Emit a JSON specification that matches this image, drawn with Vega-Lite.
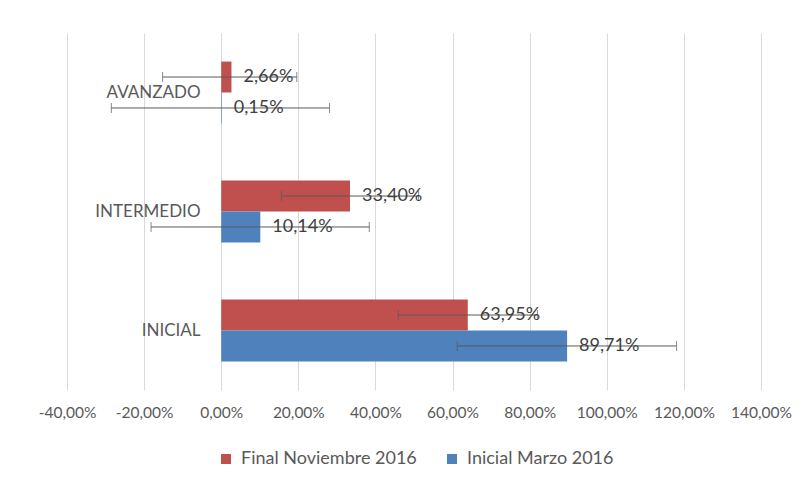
{
  "$schema": "https://vega.github.io/schema/vega-lite/v6.json",
  "autosize": {"type": "none"},
  "width": 694,
  "height": 357,
  "padding": {"left": 67, "top": 33, "right": 50, "bottom": 93},
  "background": "white",
  "config": {
    "locale": {"number": {"decimal": ",", "thousands": ".", "grouping": [3], "currency": ["", " €"], "minus": "-"}},
    "font": "Lato",
    "view": {"stroke": null}
  },
  "data": {
    "values": [
      {"nivel": "AVANZADO", "serie": "Final Noviembre 2016", "valor": 0.0266, "lo": -0.152, "hi": 0.196},
      {"nivel": "AVANZADO", "serie": "Inicial Marzo 2016", "valor": 0.0015, "lo": -0.285, "hi": 0.281},
      {"nivel": "INTERMEDIO", "serie": "Final Noviembre 2016", "valor": 0.334, "lo": 0.156, "hi": 0.512},
      {"nivel": "INTERMEDIO", "serie": "Inicial Marzo 2016", "valor": 0.1014, "lo": -0.182, "hi": 0.384},
      {"nivel": "INICIAL", "serie": "Final Noviembre 2016", "valor": 0.6395, "lo": 0.459, "hi": 0.82},
      {"nivel": "INICIAL", "serie": "Inicial Marzo 2016", "valor": 0.8971, "lo": 0.612, "hi": 1.181}
    ]
  },
  "encoding": {
    "y": {
      "field": "nivel", "type": "nominal",
      "sort": ["AVANZADO", "INTERMEDIO", "INICIAL"],
      "scale": {"paddingInner": 0.48, "paddingOuter": 0.24},
      "axis": {"title": null, "offset": -155, "domain": false, "ticks": false, "labelPadding": 22, "labelFontSize": 17, "labelColor": "#595959"}
    },
    "yOffset": {"field": "serie", "type": "nominal", "sort": ["Final Noviembre 2016", "Inicial Marzo 2016"]}
  },
  "layer": [
    {
      "mark": {"type": "bar"},
      "encoding": {
        "x": {
          "field": "valor", "type": "quantitative",
          "scale": {"domain": [-0.4, 1.4], "nice": false, "zero": false},
          "axis": {"title": null, "format": ".2%", "values": [-0.4, -0.2, 0, 0.2, 0.4, 0.6, 0.8, 1.0, 1.2, 1.4], "labelOverlap": false, "labelBound": false, "labelFlush": false, "domain": false, "ticks": false, "grid": true, "gridColor": "#D9D9D9", "gridWidth": 1, "labelFontSize": 15.5, "labelColor": "#595959", "labelPadding": 15}
        },
        "color": {
          "field": "serie", "type": "nominal",
          "scale": {"domain": ["Final Noviembre 2016", "Inicial Marzo 2016"], "range": ["#C0504D", "#4F81BD"]},
          "legend": {"title": null, "orient": "none", "legendX": 150, "legendY": 417, "direction": "horizontal", "symbolType": "square", "symbolSize": 100, "symbolStrokeWidth": 0, "labelFontSize": 18, "labelColor": "#595959", "columnPadding": 26, "labelOffset": 6, "labelLimit": 300}
        }
      }
    },
    {
      "mark": {"type": "rule", "color": "#595959", "strokeWidth": 1},
      "encoding": {
        "x": {"field": "lo", "type": "quantitative"},
        "x2": {"field": "hi"}
      }
    },
    {
      "mark": {"type": "tick", "color": "#595959", "thickness": 1, "size": 10, "orient": "vertical"},
      "encoding": {"x": {"field": "lo", "type": "quantitative"}}
    },
    {
      "mark": {"type": "tick", "color": "#595959", "thickness": 1, "size": 10, "orient": "vertical"},
      "encoding": {"x": {"field": "hi", "type": "quantitative"}}
    },
    {
      "mark": {"type": "text", "align": "left", "dx": 12, "fontSize": 18, "color": "#404040", "baseline": "middle"},
      "encoding": {
        "x": {"field": "valor", "type": "quantitative"},
        "text": {"field": "valor", "type": "quantitative", "format": ".2%"}
      }
    }
  ]
}
